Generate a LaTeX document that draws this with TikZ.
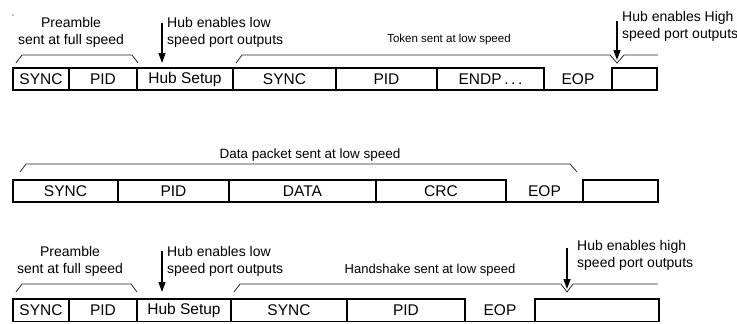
\documentclass[tikz,border=0pt]{standalone}
\usepackage{fontspec}
\setmainfont{Liberation Sans}
\usetikzlibrary{arrows.meta}
\begin{document}
\begin{tikzpicture}[x=1pt,y=-1pt,
  cell/.style={draw=black, line width=1.8pt, outer sep=0pt, minimum height=22pt, inner sep=0pt, anchor=north west, font=\fontsize{15.5}{17}\selectfont},
  opencell/.style={inner sep=0pt, outer sep=0pt, minimum height=22pt, anchor=north west, font=\fontsize{15.5}{17}\selectfont},
  bottomline/.style={line width=1.8pt},
  captxt/.style={font=\fontsize{14}{17}\selectfont, inner sep=0pt},
  brk/.style={line width=0.8pt, draw=black!85},
  harrow/.style={line width=1.3pt, -{Triangle[width=7pt,length=10pt]}}
]
\useasboundingbox (0,0) rectangle (737,324);
\fill (13,15) circle (0.6);

% ---------------- Row 1 ----------------
\node[captxt, align=center] (c1pre) at (71,32) {Preamble\\sent at full speed};
\node[captxt, align=left, anchor=west] (c1hub) at (167,32) {Hub enables low\\speed port outputs};
\node[captxt, font=\fontsize{11.5}{14}\selectfont] (c1tok) at (449,40) {Token sent at low speed};
\node[captxt, align=left, anchor=west] (c1high) at (622,26.5) {Hub enables High\\speed port outputs};

\draw[brk] (16,63) -- (22,55) -- (132,55) -- (138,63);
\draw[brk] (236,63) -- (242,55) -- (610,55) -- (617,63) -- (624,55) -- (658,55);

\coordinate (a1s) at (162,23);
\coordinate (a1e) at (162,63);
\draw[harrow] (a1s) -- (a1e);
\coordinate (a2s) at (617,21);
\coordinate (a2e) at (617,60);
\draw[harrow] (a2s) -- (a2e);

\node[cell, minimum width=56pt]  (r1a) at (13,68)  {SYNC};
\node[cell, minimum width=68pt]  (r1b) at (69,68)  {PID};
\node[cell, minimum width=96pt]  (r1c) at (137,68) {Hub Setup};
\node[cell, minimum width=103pt] (r1d) at (233,68) {SYNC};
\node[cell, minimum width=101pt] (r1e) at (336,68) {PID};
\node[cell, minimum width=107pt] (r1f) at (437,68) {ENDP\,.\,.\,.};
\node[opencell, minimum width=68pt] (r1g) at (544,68) {EOP};
\node[cell, minimum width=45pt]  (r1h) at (612,68) {};
\draw[bottomline] (r1f.south east) -- (r1h.south west);

% ---------------- Row 2 ----------------
\node[captxt, font=\fontsize{13.5}{16}\selectfont] (c2dat) at (310,155) {Data packet sent at low speed};
\draw[brk] (20,172) -- (26,164) -- (570,164) -- (577,172);

\node[cell, minimum width=105pt] (r2a) at (13,180)  {SYNC};
\node[cell, minimum width=111pt] (r2b) at (118,180) {PID};
\node[cell, minimum width=147pt] (r2c) at (229,180) {DATA};
\node[cell, minimum width=130pt] (r2d) at (376,180) {CRC};
\node[opencell, minimum width=77pt] (r2e) at (506,180) {EOP};
\node[cell, minimum width=75pt]  (r2f) at (583,180) {};
\draw[bottomline] (r2d.south east) -- (r2f.south west);

% ---------------- Row 3 ----------------
\node[captxt, align=center] (c3pre) at (70,261) {Preamble\\sent at full speed};
\node[captxt, align=left, anchor=west] (c3hub) at (167,261) {Hub enables low\\speed port outputs};
\node[captxt, font=\fontsize{13}{16}\selectfont] (c3hand) at (430,270) {Handshake sent at low speed};
\node[captxt, align=left, anchor=west] (c3high) at (577,255.5) {Hub enables high\\speed port outputs};

\draw[brk] (16,292) -- (22,284) -- (131,284) -- (137,292);
\draw[brk] (234,292) -- (240,284) -- (561,284) -- (567,292) -- (573,284) -- (658,284);

\coordinate (a3s) at (162,251);
\coordinate (a3e) at (162,292);
\draw[harrow] (a3s) -- (a3e);
\coordinate (a4s) at (567,248);
\coordinate (a4e) at (567,289);
\draw[harrow] (a4s) -- (a4e);

\node[cell, minimum width=56pt, minimum height=22.5pt]  (r3a) at (13,299)  {SYNC};
\node[cell, minimum width=68pt, minimum height=22.5pt]  (r3b) at (69,299)  {PID};
\node[cell, minimum width=94pt, minimum height=22.5pt]  (r3c) at (137,299) {Hub Setup};
\node[cell, minimum width=116pt, minimum height=22.5pt] (r3d) at (231,299) {SYNC};
\node[cell, minimum width=118pt, minimum height=22.5pt] (r3e) at (347,299) {PID};
\node[opencell, minimum width=70pt, minimum height=22.5pt] (r3f) at (465,299) {EOP};
\node[cell, minimum width=124pt, minimum height=22.5pt] (r3g) at (535,299) {};
\draw[bottomline] (r3e.south east) -- (r3g.south west);
\end{tikzpicture}
\end{document}
